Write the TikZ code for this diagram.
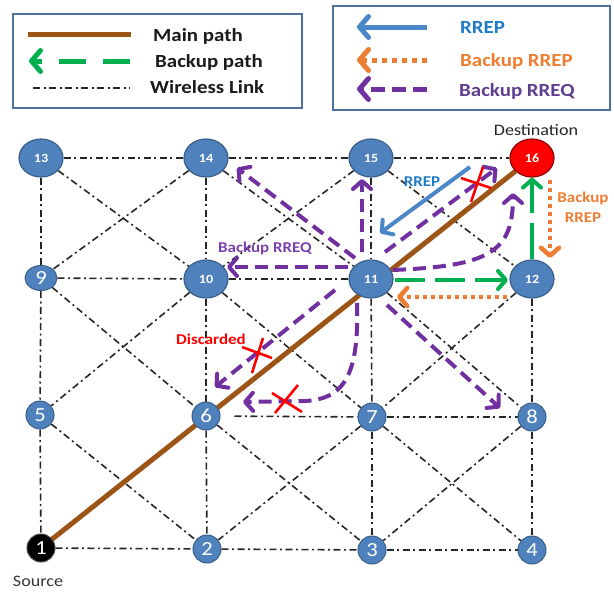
\documentclass[tikz,border=0pt]{standalone}
\usepackage{fontspec}
\setmainfont[FakeStretch=1.13]{Carlito}
\usetikzlibrary{arrows.meta,shapes.geometric,calc,backgrounds}
\definecolor{nodeblue}{HTML}{4F81BD}
\definecolor{nodeedge}{HTML}{3A5F8B}
\definecolor{mainbrown}{HTML}{9C5516}
\definecolor{bkgreen}{HTML}{00B050}
\definecolor{rrepblue}{HTML}{4A86C8}
\definecolor{rreptext}{HTML}{1F7BC6}
\definecolor{bkorange}{HTML}{ED7D31}
\definecolor{rreqpurple}{HTML}{7030A0}
\definecolor{rreqtext}{HTML}{7B3FB0}
\definecolor{legrreq}{HTML}{5F3F8F}
\definecolor{legendedge}{HTML}{4F6F9F}
\definecolor{legendtext}{HTML}{1A1A1A}
\begin{document}
\begin{tikzpicture}[x=1pt,y=-1pt,
  chev/.tip={Straight Barb[length=8pt,width=18pt,round]},
  bigchev/.tip={Straight Barb[length=9pt,width=21pt,round]},
  link/.style={draw=black!85,line width=1.6pt,dash pattern=on 7pt off 3.5pt on 2pt off 3.5pt},
  mainpath/.style={draw=mainbrown,line width=5pt},
  backup/.style={draw=bkgreen,line width=4pt,dash pattern=on 30pt off 10pt,-chev},
  rrep/.style={draw=rrepblue,line width=4pt,-chev},
  bkrrep/.style={draw=bkorange,line width=4.5pt,dash pattern=on 4pt off 4pt,-chev},
  rreq/.style={draw=rreqpurple,line width=4pt,dash pattern=on 13pt off 7pt,-chev},
  redx/.style={draw=red,line width=2.6pt},
  bignode/.style={ellipse,draw=nodeedge,line width=1.2pt,fill=nodeblue,minimum width=44pt,minimum height=38pt,inner sep=0pt,text=white,font=\fontsize{12.5}{13}\selectfont\bfseries},
  smallnode/.style={circle,draw=nodeedge,line width=1pt,fill=nodeblue,minimum size=28pt,inner sep=0pt,text=white,font=\fontsize{20}{20}\selectfont},
  legbox/.style={draw=legendedge,line width=2pt},
  legtext/.style={anchor=west,inner sep=0pt,font=\fontsize{18.5}{20}\selectfont\bfseries},
  lbl/.style={inner sep=0pt,font=\fontsize{15}{16}\selectfont\bfseries}]
\useasboundingbox (0,0) rectangle (614,592);

% ---- legend: path types ----
\draw[legbox] (13,14) rectangle (302,108);
\coordinate (lmA) at (28,34);  \coordinate (lmB) at (131,34);
\coordinate (lbA) at (130,61); \coordinate (lbB) at (29,61);
\coordinate (lwA) at (33,88);  \coordinate (lwB) at (130,88);
\draw[mainpath] (lmA) -- (lmB);
\draw[draw=bkgreen,line width=5pt,dash pattern=on 27pt off 17pt,-bigchev] (lbA) -- (lbB);
\draw[link] (lwA) -- (lwB);
\node[legtext,text=legendtext] (tmain) at (153,36) {Main path};
\node[legtext,text=legendtext] (tback) at (155,62) {Backup path};
\node[legtext,text=legendtext] (twire) at (150,87) {Wireless Link};

% ---- legend: control messages ----
\draw[legbox] (333,6) rectangle (610,110);
\coordinate (lrA) at (427,27); \coordinate (lrB) at (357,27);
\coordinate (loA) at (427,60); \coordinate (loB) at (357,60);
\coordinate (lqA) at (427,89); \coordinate (lqB) at (357,89);
\draw[draw=rrepblue,line width=5pt,-bigchev] (lrA) -- (lrB);
\draw[draw=bkorange,line width=5pt,dash pattern=on 5pt off 5pt,-bigchev] (loA) -- (loB);
\draw[draw=rreqpurple,line width=5pt,dash pattern=on 14pt off 7pt,-bigchev] (lqA) -- (lqB);
\node[legtext,text=rreptext] (trrep) at (460,27) {RREP};
\node[legtext,text=bkorange] (tbrrep) at (460,61) {Backup RREP};
\node[legtext,text=legrreq] (tbrreq) at (459,91) {Backup RREQ};

% ---- network nodes ----
\node[bignode] (n13) at (41,158) {13};
\node[bignode] (n14) at (206,158) {14};
\node[bignode] (n15) at (371,158) {15};
\node[bignode,fill=red,draw=red!55!black] (n16) at (532,158) {16};
\node[smallnode,ellipse,minimum width=32pt,minimum height=25pt] (n9) at (41,278) {9};
\node[bignode] (n10) at (206,279) {10};
\node[bignode] (n11) at (371,279) {11};
\node[bignode] (n12) at (532,279) {12};
\node[smallnode] (n5) at (40,415) {5};
\node[smallnode] (n6) at (206,416) {6};
\node[smallnode] (n7) at (372,417) {7};
\node[smallnode] (n8) at (532,417) {8};
\node[smallnode,fill=black,draw=black!70] (n1) at (41,548) {1};
\node[smallnode] (n2) at (207,549) {2};
\node[smallnode] (n3) at (372,550) {3};
\node[smallnode] (n4) at (532,550) {4};

\node[inner sep=0pt,text=black!85,font=\fontsize{16}{17}\selectfont] (dest) at (536,130) {Destination};
\node[inner sep=0pt,text=black!80,font=\fontsize{16}{17}\selectfont] (src) at (38,581) {Source};

% ---- wireless links and main path, behind the nodes ----
\begin{scope}[on background layer]
  \foreach \a/\b in {n13/n14,n14/n15,n15/n16,n9/n10,n10/n11,n7/n8,n1/n2,n2/n3,n3/n4,
                     n13/n9,n9/n5,n5/n1,n14/n10,n10/n6,n6/n2,n15/n11,n11/n7,n7/n3,n12/n8,n8/n4,
                     n13/n10,n14/n9,n14/n11,n15/n10,n15/n12,n9/n6,n10/n5,n10/n7,n12/n7,n11/n8,
                     n5/n2,n6/n3,n7/n2,n7/n4,n8/n3}
    \draw[link] (\a) -- (\b);
  \draw[link,shorten <=14pt] (n6) -- (n7);
  \draw[mainpath] (n1.center) -- (n16);
\end{scope}

% ---- backup path ----
\draw[backup] ($(n11)+(24,1)$) -- ($(n12)+(-24,1)$);
\draw[backup,dash pattern=on 36pt off 10pt] (n12.north) -- (n16.south);

% ---- route replies ----
\draw[rrep] ($(n16)+(-62,9)$) -- ($(n11)+(9,-46)$);
\draw[bkrrep] ($(n16)+(18,22)$) -- ($(n12)+(18,-21)$);
\draw[bkrrep] ($(n12)+(-25,18)$) -- ($(n11)+(26,18)$);

% ---- backup route requests from node 11 ----
\draw[rreq] ($(n11)+(-16,-21)$) -- ($(n14)+(31,10)$);
\draw[rreq] ($(n11)+(-9,-27)$) -- ($(n15)+(-9,21)$);
\draw[rreq] ($(n11)+(-23,-12)$) -- ($(n10)+(21,-12)$);
\draw[rreq] ($(n11)+(14,-27)$) -- ($(n16)+(-35,10)$);
\draw[rreq] ($(n11)+(22,-9)$) .. controls (490,266) and (513,252) .. ($(n16)+(-19,35)$);
\draw[rreq] ($(n11)+(-36,11)$) -- ($(n6)+(9,-29)$);
\draw[rreq] ($(n11)+(-14,24)$) .. controls (359,372) and (346,399) .. (305,401) -- ($(n6)+(37,-14)$);
\draw[rreq] ($(n11)+(16,26)$) -- ($(n8)+(-32,-9)$);

% ---- dropped messages ----
\coordinate (x1) at (476,185);
\coordinate (x2) at (258,355);
\coordinate (x3) at (288,401);
\draw[redx] (x1) +(-15,-7) -- +(15,3) +(7,-18) -- +(-5,17);
\draw[redx] (x2) +(-16,-8) -- +(14,3) +(5,-17) -- +(-6,18);
\draw[redx] (x3) +(-16,-8) -- +(14,11) +(10,-16) -- +(-13,12);

% ---- message labels ----
\node[lbl,text=rreptext] (lrrep) at (422,182) {RREP};
\node[lbl,text=bkorange,align=center,font=\fontsize{15}{20}\selectfont\bfseries] (lbrrep) at (583,207) {Backup\\RREP};
\node[lbl,text=rreqtext] (lbrreq) at (265,248) {Backup RREQ};
\node[lbl,text=red] (ldisc) at (211,339) {Discarded};
\end{tikzpicture}
\end{document}
